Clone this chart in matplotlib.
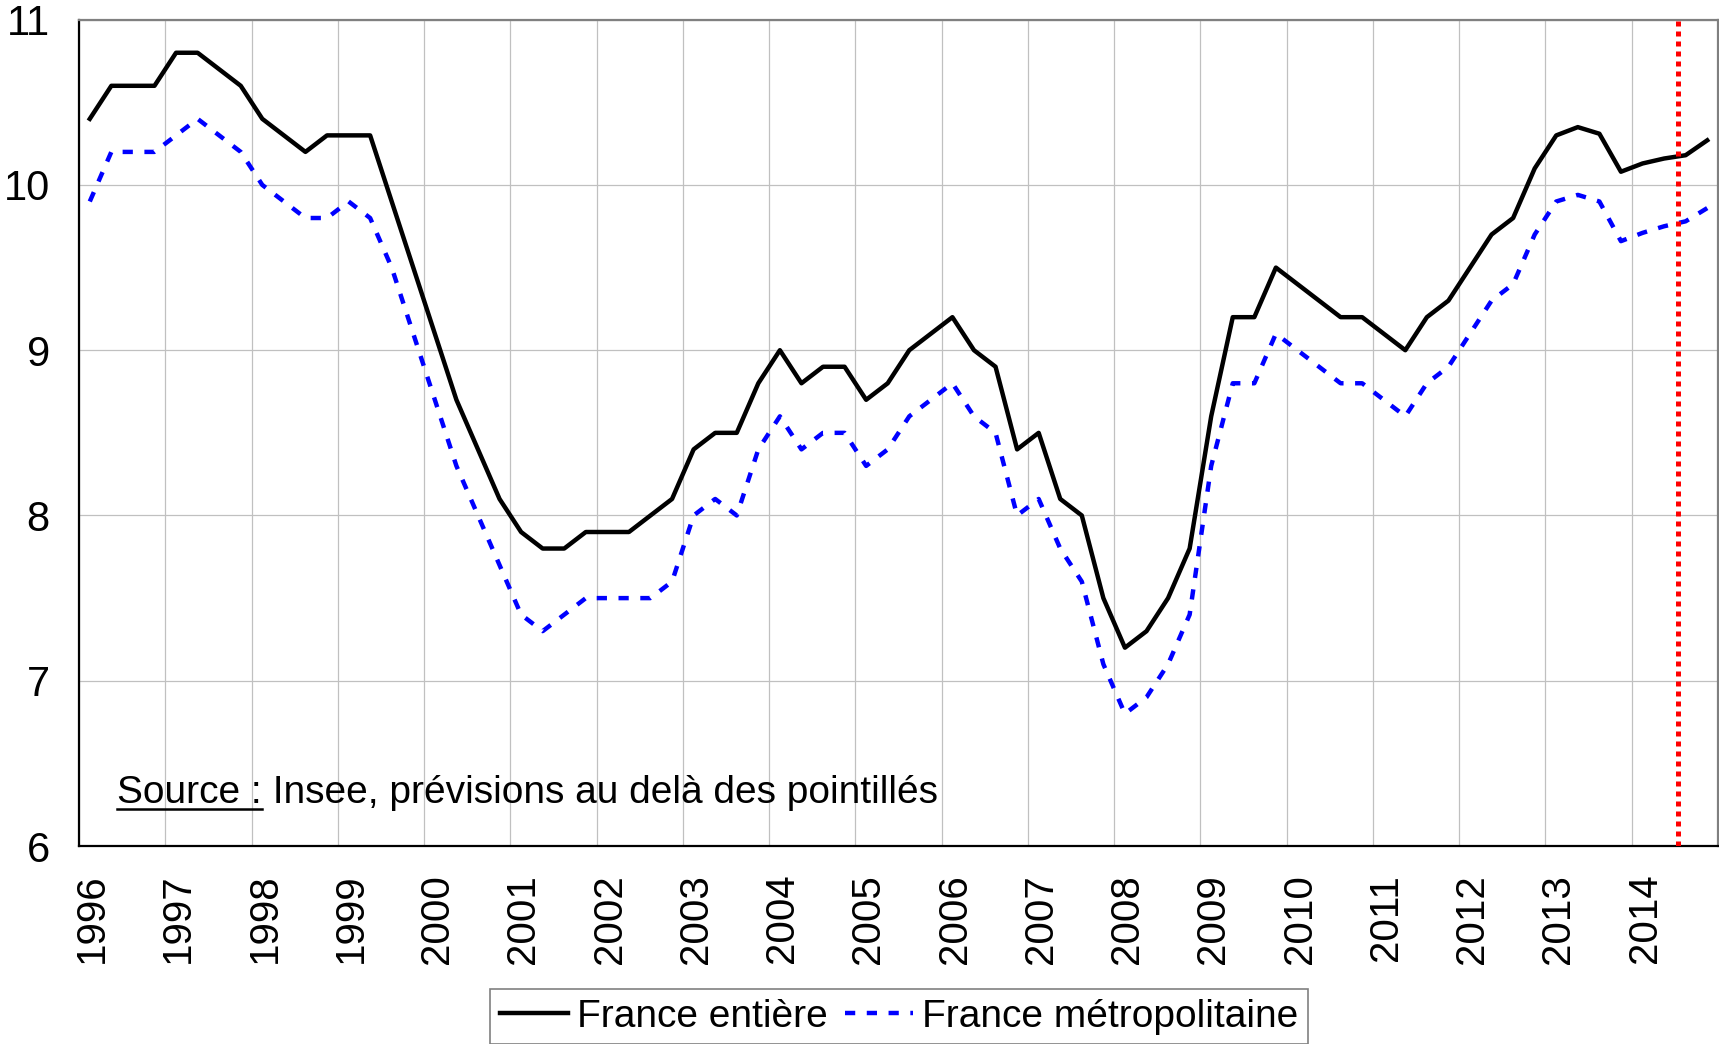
import numpy as np
from matplotlib import pyplot as plt
from matplotlib.transforms import ScaledTranslation

plt.rcParams['font.family'] = ['Liberation Sans', 'DejaVu Sans']

# taux de chomage trimestriel, 1996T1 - 2014T4
france_entiere = [10.4, 10.6, 10.6, 10.6, 10.8, 10.8, 10.7, 10.6,
                  10.4, 10.3, 10.2, 10.3, 10.3, 10.3, 9.9, 9.5,
                  9.1, 8.7, 8.4, 8.1, 7.9, 7.8, 7.8, 7.9,
                  7.9, 7.9, 8.0, 8.1, 8.4, 8.5, 8.5, 8.8,
                  9.0, 8.8, 8.9, 8.9, 8.7, 8.8, 9.0, 9.1,
                  9.2, 9.0, 8.9, 8.4, 8.5, 8.1, 8.0, 7.5,
                  7.2, 7.3, 7.5, 7.8, 8.6, 9.2, 9.2, 9.5,
                  9.4, 9.3, 9.2, 9.2, 9.1, 9.0, 9.2, 9.3,
                  9.5, 9.7, 9.8, 10.1, 10.3, 10.35, 10.31, 10.08,
                  10.13, 10.16, 10.18, 10.27]
france_metro = [9.9, 10.2, 10.2, 10.2, 10.3, 10.4, 10.3, 10.2,
                10.0, 9.9, 9.8, 9.8, 9.9, 9.8, 9.5, 9.1,
                8.7, 8.3, 8.0, 7.7, 7.4, 7.3, 7.4, 7.5,
                7.5, 7.5, 7.5, 7.6, 8.0, 8.1, 8.0, 8.4,
                8.6, 8.4, 8.5, 8.5, 8.3, 8.4, 8.6, 8.7,
                8.8, 8.6, 8.5, 8.0, 8.1, 7.8, 7.6, 7.1,
                6.8, 6.9, 7.1, 7.4, 8.3, 8.8, 8.8, 9.1,
                9.0, 8.9, 8.8, 8.8, 8.7, 8.6, 8.8, 8.9,
                9.1, 9.3, 9.4, 9.7, 9.9, 9.94, 9.9, 9.66,
                9.71, 9.75, 9.78, 9.86]
annees = list(range(1996, 2015))
prevision_debut = 2014.54

trimestres = 1996 + (np.arange(len(france_entiere)) + 0.5) / 4

fig = plt.figure(figsize=(17.19, 10.44), dpi=100)
fig.subplots_adjust(left=79/1719, right=1718/1719, top=1-19.7/1044, bottom=1-846/1044)
ax = fig.add_subplot(111)

ax.plot(trimestres, france_entiere, color='black', lw=3.2, label='France entière', zorder=3)
ax.plot(trimestres, france_metro, color='blue', lw=3.2, dashes=(2.3, 2.6), label='France métropolitaine', zorder=3)
ax.axvline(prevision_debut, color='red', lw=3.6, dashes=(1, 1), zorder=4)

ax.set_xlim(1996, 2015)
ax.set_ylim(6, 11)
ax.set_xticks(annees)
ax.set_xticklabels([str(a) for a in annees], rotation=90, fontsize=29, va='top', ha='center')
ax.set_yticks(range(6, 12))
ax.tick_params(axis='x', length=0, pad=20)
ax.tick_params(axis='y', length=0, pad=21, labelsize=30)
for lab in ax.get_xticklabels():
    lab.set_transform(lab.get_transform() + ScaledTranslation(0.13, 0, fig.dpi_scale_trans))

ax.grid(True, color='#c0c0c0', lw=0.9)
ax.set_axisbelow(True)
for s in ['left', 'bottom']:
    ax.spines[s].set_color('black')
    ax.spines[s].set_linewidth(1.6)
for s in ['top', 'right']:
    ax.spines[s].set_color('#808080')
    ax.spines[s].set_linewidth(1.6)

leg = ax.legend(loc='center', bbox_to_anchor=(0.523, 0.0262), bbox_transform=fig.transFigure,
                ncol=2, fontsize=28, fancybox=False, edgecolor='#808080', framealpha=1,
                handlelength=1.75, handletextpad=0.23, columnspacing=0.45, borderpad=0.25,
                borderaxespad=0)
leg.get_frame().set_linewidth(1.2)

t1 = ax.text(0.0232, 0.052, 'Source :', transform=ax.transAxes, fontsize=28, va='baseline')
fig.canvas.draw()
bb = t1.get_window_extent()
x0 = ax.transAxes.inverted().transform((bb.x0, bb.y0))[0]
x1 = ax.transAxes.inverted().transform((bb.x1, bb.y0))[0]
ax.text(x1, 0.052, ' Insee, prévisions au delà des pointillés', transform=ax.transAxes,
        fontsize=28, va='baseline')
ax.plot([x0, x1], [0.0445, 0.0445], transform=ax.transAxes, color='black', lw=1.8, clip_on=False)

plt.savefig('out.png', dpi=100)
